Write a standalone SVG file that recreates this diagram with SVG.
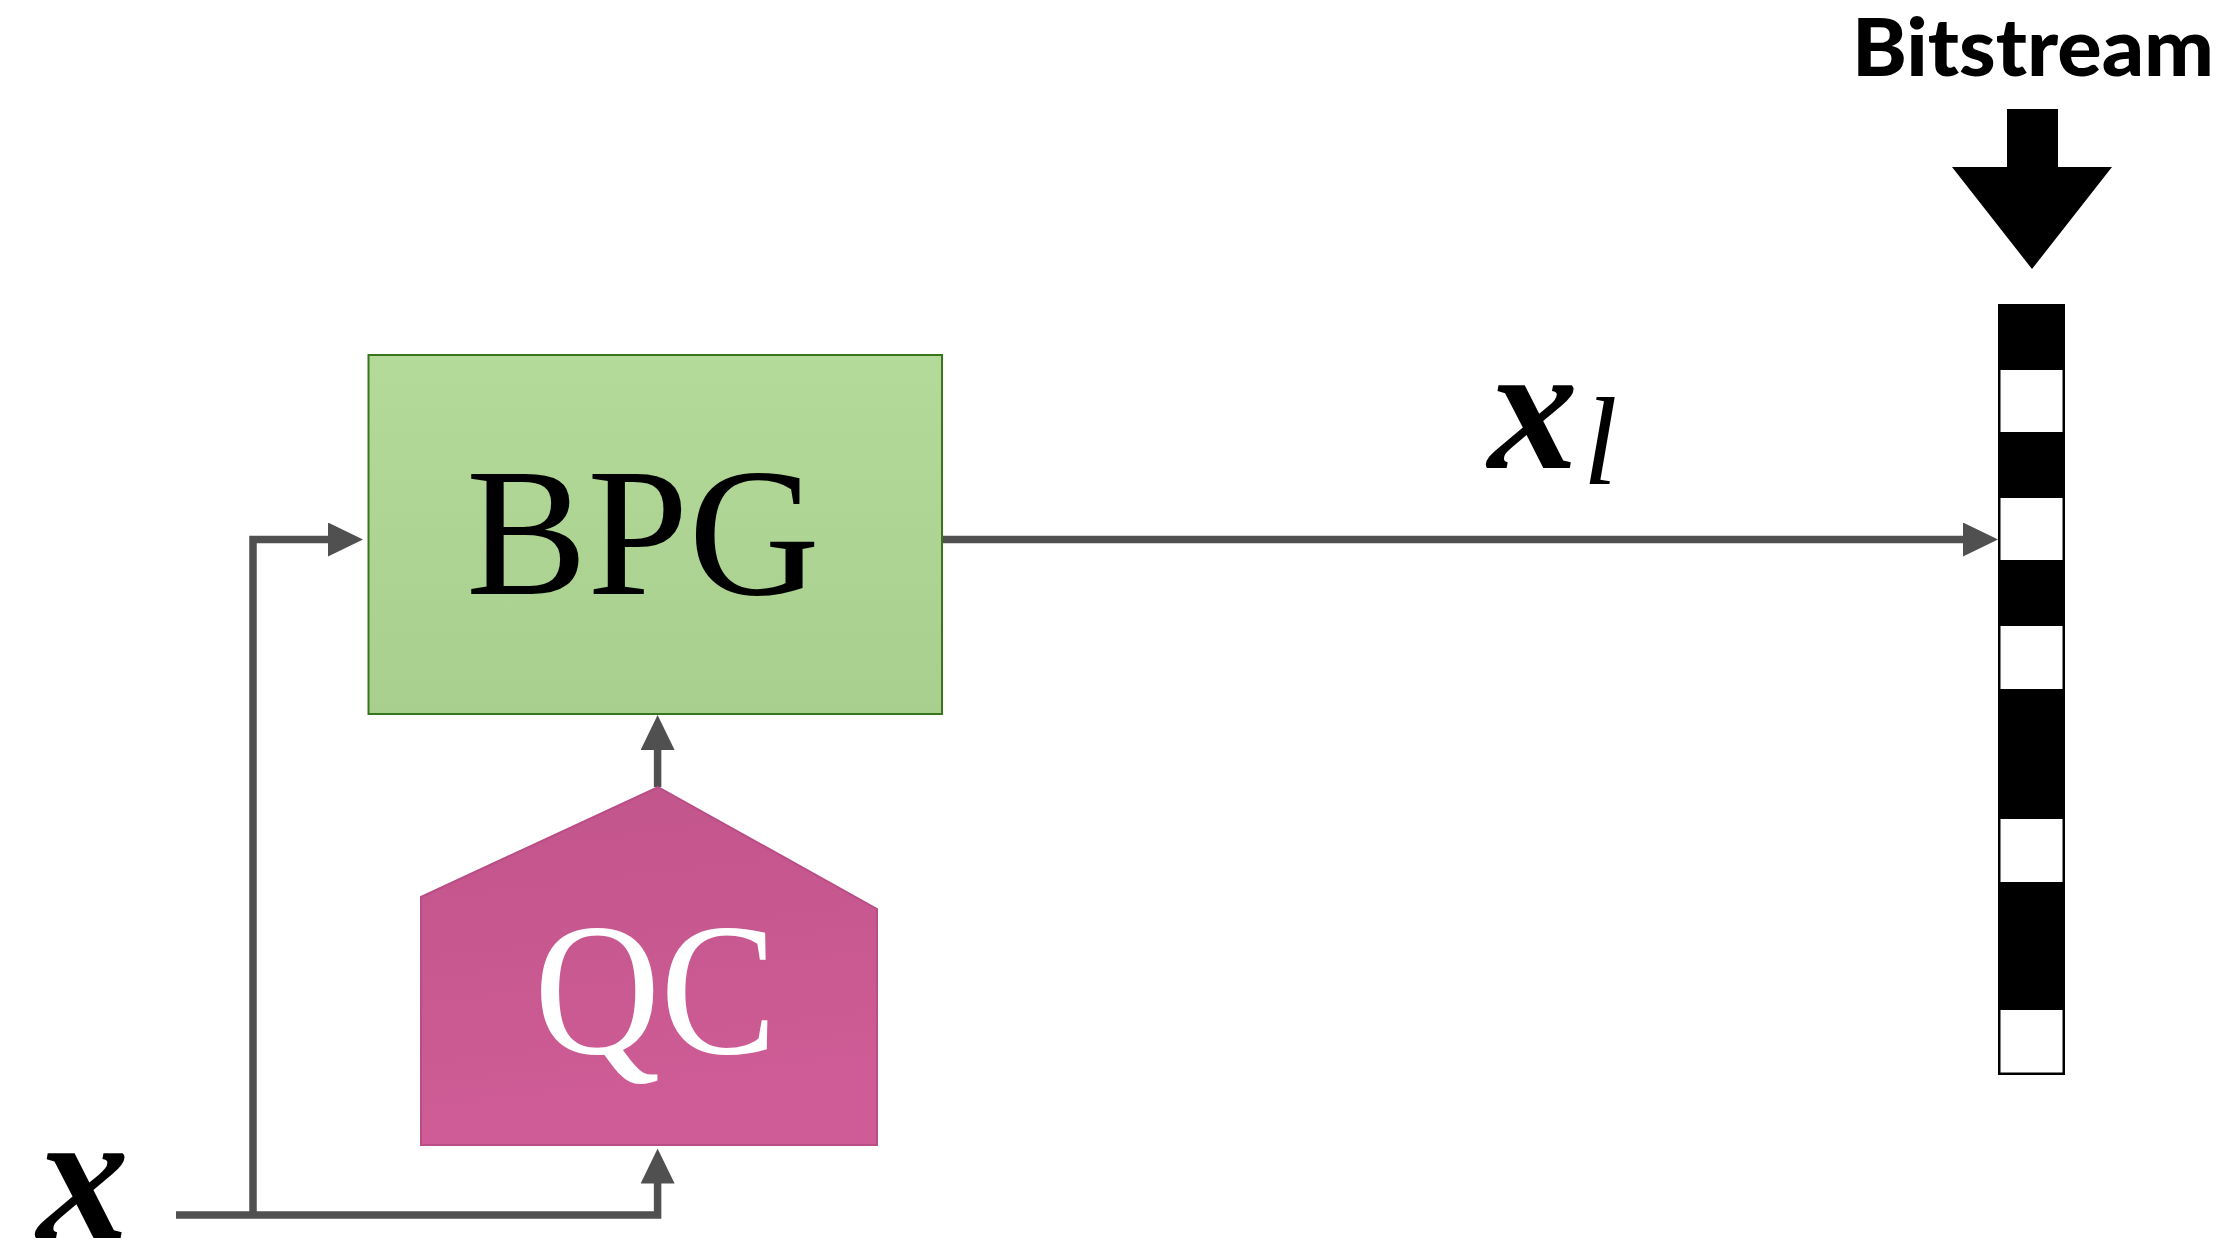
<svg xmlns="http://www.w3.org/2000/svg" width="2229" height="1251" viewBox="0 0 2229 1251">
  <defs>
    <linearGradient id="gGreen" x1="0" y1="0" x2="0" y2="1">
      <stop offset="0" stop-color="#b3da99"/>
      <stop offset="1" stop-color="#a8cf8e"/>
    </linearGradient>
    <linearGradient id="gPink" x1="0" y1="0" x2="0.15" y2="1">
      <stop offset="0" stop-color="#c1558a"/>
      <stop offset="1" stop-color="#cf5c96"/>
    </linearGradient>
    <marker id="arr" viewBox="0 0 35 34" refX="25" refY="17" markerWidth="35" markerHeight="34" markerUnits="userSpaceOnUse" orient="auto">
      <path d="M0,0 L35,17 L0,34 Z" fill="#505050"/>
    </marker>
    <style>
      .conn { fill: none; stroke: #505050; stroke-width: 7.5; stroke-linejoin: miter; }
      .serif { font-family: "Liberation Serif", "DejaVu Serif", serif; }
      .math { font-family: "Liberation Serif", "DejaVu Serif", serif; font-style: italic; }
    </style>
  </defs>
  <rect width="2229" height="1251" fill="#ffffff"/>

  <g id="connectors">
    <path class="conn" d="M176,1215 H657.6 V1158.6" marker-end="url(#arr)"/>
    <path class="conn" d="M253,1215 V539.5 H353" marker-end="url(#arr)"/>
    <path class="conn" d="M657.6,787 V725" marker-end="url(#arr)"/>
    <path class="conn" d="M942,539.5 H1988" marker-end="url(#arr)"/>
  </g>

  <g id="node-bpg">
    <rect x="368.5" y="355" width="573.5" height="359" fill="url(#gGreen)" stroke="#38761d" stroke-width="2"/>
    <text class="serif" x="466" y="594" font-size="183" textLength="354" lengthAdjust="spacingAndGlyphs" fill="#000000">BPG</text>
  </g>

  <g id="node-qc">
    <polygon points="421,897 658,787 877,909 877,1145 421,1145" fill="url(#gPink)" stroke="#b94d86" stroke-width="2"/>
    <text class="serif" x="534" y="1053" font-size="188" textLength="243" lengthAdjust="spacingAndGlyphs" fill="#ffffff">QC</text>
  </g>

  <g id="label-x">
    <text class="math" x="37" y="1238" font-size="184" font-weight="bold" fill="#000000">x</text>
  </g>

  <g id="label-xl">
    <text class="math" x="1488" y="468" font-size="180" font-weight="bold" fill="#000000">x</text>
    <text class="math" x="1583" y="484" font-size="124" fill="#000000">l</text>
  </g>

  <g id="node-bitstream-label">
    <text x="1852" y="76" font-family="Lato, 'Liberation Sans', sans-serif" font-weight="900" font-size="80" textLength="362" lengthAdjust="spacingAndGlyphs" fill="#000000">Bitstream</text>
    <polygon points="2007,109 2058,109 2058,167 2112,167 2032,269 1952,167 2007,167" fill="#000000"/>
  </g>

  <g id="node-bitstream-bar">
    <rect x="1998" y="304" width="67" height="771" fill="#000000"/>
    <rect x="2000.5" y="370" width="62" height="62" fill="#ffffff"/>
    <rect x="2000.5" y="498" width="62" height="62" fill="#ffffff"/>
    <rect x="2000.5" y="626" width="62" height="63" fill="#ffffff"/>
    <rect x="2000.5" y="819" width="62" height="63" fill="#ffffff"/>
    <rect x="2000.5" y="1010" width="62" height="62.5" fill="#ffffff"/>
  </g>
</svg>
